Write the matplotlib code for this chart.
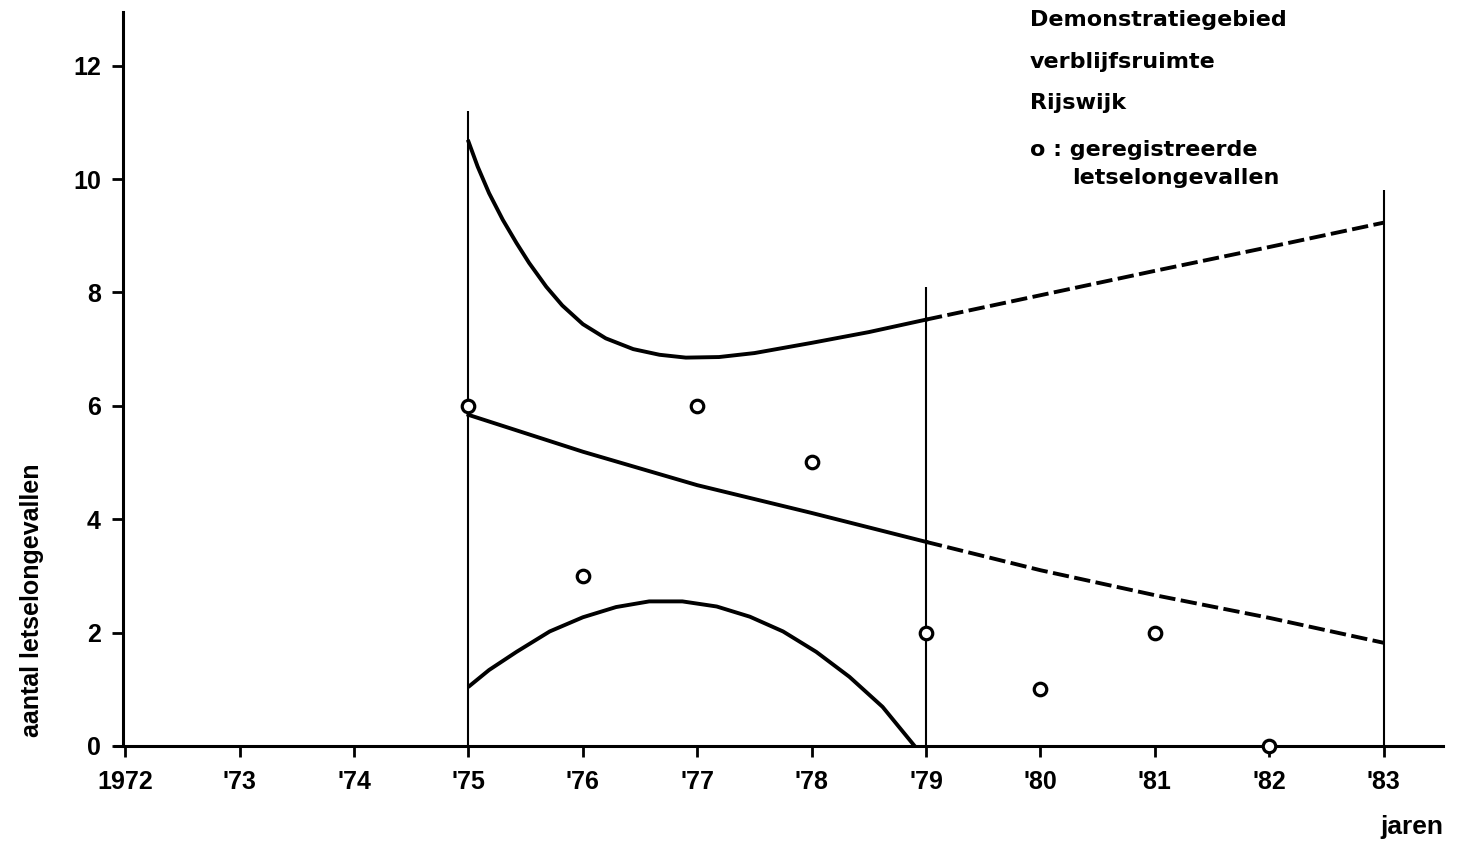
import matplotlib.pyplot as plt

# geregistreerde letselongevallen per jaar
years = [1975, 1976, 1977, 1978, 1979, 1980, 1981, 1982]
accidents = [6, 3, 6, 5, 2, 1, 2, 0]

# trendlijn (getrokken 1975-1979, gestippeld 1979-1983)
trend_x = [1975, 1976, 1977, 1978, 1979]
trend_y = [5.84, 5.19, 4.60, 4.11, 3.60]
trend_fut_x = [1979, 1980, 1981, 1982, 1983]
trend_fut_y = [3.60, 3.10, 2.66, 2.26, 1.82]

# bovengrens
upper_x = [1975.0, 1975.08, 1975.18, 1975.30, 1975.42, 1975.53, 1975.68, 1975.82,
           1976.0, 1976.2, 1976.44, 1976.67, 1976.9, 1977.19, 1977.5, 1978.0,
           1978.5, 1979.0]
upper_y = [10.66, 10.22, 9.75, 9.28, 8.87, 8.52, 8.10, 7.77,
           7.44, 7.19, 7.00, 6.90, 6.85, 6.86, 6.93, 7.11,
           7.30, 7.52]
upper_fut_x = [1979, 1980, 1981, 1982, 1983]
upper_fut_y = [7.52, 7.95, 8.38, 8.80, 9.23]

# ondergrens
lower_x = [1975.01, 1975.18, 1975.42, 1975.71, 1976.0, 1976.29, 1976.58, 1976.87,
           1977.17, 1977.46, 1977.75, 1978.04, 1978.33, 1978.62, 1978.90]
lower_y = [1.06, 1.34, 1.66, 2.02, 2.27, 2.45, 2.55, 2.55,
           2.46, 2.28, 2.02, 1.66, 1.22, 0.69, 0.0]

# verticale lijnen
vlines_x = [1975, 1979, 1983]
vlines_top = [11.2, 8.1, 9.81]

xticks = list(range(1972, 1984))
xlabels = ['1972'] + ["'%d" % (y % 100) for y in xticks[1:]]
yticks = [0, 2, 4, 6, 8, 10, 12]

notes = ['Demonstratiegebied', 'verblijfsruimte', 'Rijswijk', 'o : geregistreerde']


def main():
    plt.rcParams['font.family'] = ['Liberation Sans', 'DejaVu Sans']
    plt.rcParams['font.weight'] = 'bold'

    fig = plt.figure(figsize=(14.65, 8.41), dpi=100)
    ax = fig.add_axes([0.084, 0.113, 0.901, 0.873])

    ax.vlines(vlines_x, 0, vlines_top, color='black', lw=1.5)

    dash = (0, (4.2, 1.4))
    ax.plot(trend_x, trend_y, color='black', lw=2.8)
    ax.plot(trend_fut_x, trend_fut_y, color='black', lw=2.8, ls=dash)
    ax.plot(upper_x, upper_y, color='black', lw=2.8)
    ax.plot(upper_fut_x, upper_fut_y, color='black', lw=2.8, ls=dash)
    ax.plot(lower_x, lower_y, color='black', lw=2.8)

    ax.plot(years, accidents, 'o', ms=9, mfc='white', mec='black', mew=2.3,
            clip_on=False, zorder=5)

    ax.set_xlim(1971.98, 1983.52)
    ax.set_ylim(0, 12.95)
    ax.set_xticks(xticks)
    ax.set_xticklabels(xlabels)
    ax.set_yticks(yticks)
    ax.tick_params(axis='both', labelsize=18, width=2, length=8, color='black')
    ax.tick_params(axis='x', pad=9)
    ax.tick_params(axis='y', pad=8)

    for side in ['top', 'right']:
        ax.spines[side].set_visible(False)
    ax.spines['left'].set_linewidth(2.2)
    ax.spines['bottom'].set_linewidth(2.2)
    ax.spines['bottom'].set_bounds(1971.91, 1983.52)

    fig.text(0.022, 1 - 600 / 841, 'aantal letselongevallen', rotation=90,
             ha='center', va='center', fontsize=18, fontweight='bold')
    fig.text(1412 / 1465, 1 - 827 / 841, 'jaren', ha='center', va='center',
             fontsize=19, fontweight='bold')

    tx = 1030 / 1465
    rows = [20, 62, 103, 150]
    for txt, row in zip(notes, rows):
        fig.text(tx, 1 - row / 841, txt, ha='left', va='center', fontsize=16,
                 family='DejaVu Sans', fontweight='bold')
    fig.text(1072 / 1465, 1 - 178 / 841, 'letselongevallen', ha='left', va='center',
             fontsize=16, family='DejaVu Sans', fontweight='bold')

    fig.savefig('out.png', dpi=100)


if __name__ == '__main__':
    main()
